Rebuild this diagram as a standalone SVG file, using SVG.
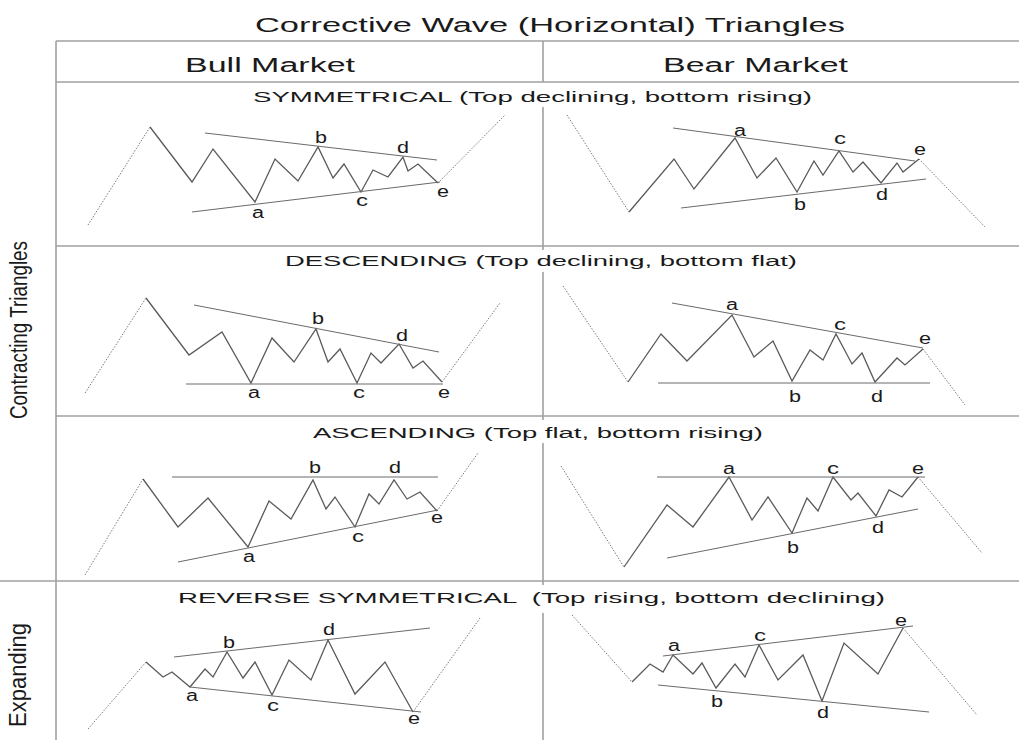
<svg xmlns="http://www.w3.org/2000/svg" width="1019" height="740" viewBox="0 0 1019 740">
<style>
.grid{stroke:#a0a0a0;stroke-width:1.6;fill:none}
.wave{fill:none;stroke:#5a5a5a;stroke-width:1.3;stroke-linejoin:miter}
.trend{stroke:#6a6a6a;stroke-width:1;fill:none}
.dot{stroke:#7a7a7a;stroke-width:1;stroke-dasharray:1.5 1.5;fill:none}
text{font-family:"Liberation Sans",Arial,sans-serif;fill:#1a1a1a}
.title{font-size:20px}
.hdr{font-size:20px}
.sub{font-size:15.5px}
.lbl{font-size:16px;text-anchor:middle}
.side{font-size:23px;text-anchor:middle}
</style>
<rect width="1019" height="740" fill="#ffffff"/>

<g id="frame">
<line class="grid" x1="56" y1="41" x2="1019" y2="41"/>
<line class="grid" x1="56" y1="82" x2="1019" y2="82"/>
<line class="grid" x1="56" y1="41" x2="56" y2="740"/>
<line class="grid" x1="56" y1="246" x2="1019" y2="246"/>
<line class="grid" x1="56" y1="416" x2="1019" y2="416"/>
<line class="grid" x1="0" y1="581" x2="1019" y2="581"/>
<line class="grid" x1="543" y1="41" x2="543" y2="82"/>
<line class="grid" x1="543" y1="107" x2="543" y2="250"/>
<line class="grid" x1="543" y1="272" x2="543" y2="420"/>
<line class="grid" x1="543" y1="443" x2="543" y2="585"/>
<line class="grid" x1="543" y1="613" x2="543" y2="740"/>
</g>

<g id="headings">
<text class="title" x="255" y="32" textLength="590" lengthAdjust="spacingAndGlyphs">Corrective Wave (Horizontal) Triangles</text>
<text class="hdr" x="185" y="72" textLength="170" lengthAdjust="spacingAndGlyphs">Bull Market</text>
<text class="hdr" x="663" y="72" textLength="185" lengthAdjust="spacingAndGlyphs">Bear Market</text>
<text class="side" transform="translate(27,330) rotate(-90)" textLength="178" lengthAdjust="spacingAndGlyphs">Contracting Triangles</text>
<text class="side" transform="translate(26,675) rotate(-90)" textLength="104" lengthAdjust="spacingAndGlyphs">Expanding</text>
</g>

<g id="subtitles">
<text class="sub" x="253" y="102" textLength="559" lengthAdjust="spacingAndGlyphs">SYMMETRICAL (Top declining, bottom rising)</text>
<text class="sub" x="285" y="266" textLength="512" lengthAdjust="spacingAndGlyphs">DESCENDING (Top declining, bottom flat)</text>
<text class="sub" x="313" y="438" textLength="450" lengthAdjust="spacingAndGlyphs">ASCENDING (Top flat, bottom rising)</text>
<text class="sub" x="178" y="603" textLength="707" lengthAdjust="spacingAndGlyphs" xml:space="preserve">REVERSE SYMMETRICAL  (Top rising, bottom declining)</text>
</g>

<g id="sym-bull">
<line class="dot" x1="88" y1="225" x2="150" y2="127"/>
<polyline class="wave" points="150,127 192,182 213,149 255,202 275,159 298,181 318,147 333,178 344,164 361,192 373,170 388,177 403,157 408,171 418,164 438,183"/>
<line class="dot" x1="438" y1="183" x2="505" y2="115"/>
<line class="trend" x1="205" y1="133" x2="437" y2="160"/>
<line class="trend" x1="192" y1="212" x2="440" y2="182"/>
<text class="lbl" x="321" y="143" textLength="12" lengthAdjust="spacingAndGlyphs">b</text>
<text class="lbl" x="403" y="153" textLength="12" lengthAdjust="spacingAndGlyphs">d</text>
<text class="lbl" x="258" y="218" textLength="12" lengthAdjust="spacingAndGlyphs">a</text>
<text class="lbl" x="362" y="206" textLength="12" lengthAdjust="spacingAndGlyphs">c</text>
<text class="lbl" x="443" y="197" textLength="12" lengthAdjust="spacingAndGlyphs">e</text>
</g>

<g id="sym-bear">
<line class="dot" x1="567" y1="115" x2="629" y2="212"/>
<polyline class="wave" points="629,212 674,159 694,189 735,138 757,178 776,158 797,192 814,161 823,175 839,151 853,172 863,162 881,183 897,163 903,172 919,159"/>
<line class="dot" x1="919" y1="159" x2="985" y2="227"/>
<line class="trend" x1="673" y1="128" x2="915" y2="161"/>
<line class="trend" x1="681" y1="208" x2="926" y2="179"/>
<text class="lbl" x="740" y="136" textLength="12" lengthAdjust="spacingAndGlyphs">a</text>
<text class="lbl" x="840" y="144" textLength="12" lengthAdjust="spacingAndGlyphs">c</text>
<text class="lbl" x="920" y="155" textLength="12" lengthAdjust="spacingAndGlyphs">e</text>
<text class="lbl" x="800" y="210" textLength="12" lengthAdjust="spacingAndGlyphs">b</text>
<text class="lbl" x="882" y="200" textLength="12" lengthAdjust="spacingAndGlyphs">d</text>
</g>

<g id="desc-bull">
<line class="dot" x1="85" y1="393" x2="146" y2="298"/>
<polyline class="wave" points="146,298 189,355 222,332 251,383 272,338 294,362 316,329 328,362 340,349 357,383 371,353 381,363 399,344 413,368 423,361 442,382"/>
<line class="dot" x1="442" y1="382" x2="500" y2="303"/>
<line class="trend" x1="194" y1="305" x2="439" y2="352"/>
<line class="trend" x1="186" y1="384" x2="443" y2="384"/>
<text class="lbl" x="318" y="324" textLength="12" lengthAdjust="spacingAndGlyphs">b</text>
<text class="lbl" x="402" y="341" textLength="12" lengthAdjust="spacingAndGlyphs">d</text>
<text class="lbl" x="254" y="398" textLength="12" lengthAdjust="spacingAndGlyphs">a</text>
<text class="lbl" x="359" y="398" textLength="12" lengthAdjust="spacingAndGlyphs">c</text>
<text class="lbl" x="444" y="398" textLength="12" lengthAdjust="spacingAndGlyphs">e</text>
</g>

<g id="desc-bear">
<line class="dot" x1="563" y1="286" x2="628" y2="382"/>
<polyline class="wave" points="628,382 661,334 687,361 732,315 754,357 773,341 792,381 810,350 823,360 836,334 852,364 862,353 875,382 897,358 905,365 923,349"/>
<line class="dot" x1="923" y1="349" x2="965" y2="405"/>
<line class="trend" x1="672" y1="303" x2="923" y2="348"/>
<line class="trend" x1="658" y1="383" x2="930" y2="383"/>
<text class="lbl" x="732" y="310" textLength="12" lengthAdjust="spacingAndGlyphs">a</text>
<text class="lbl" x="840" y="330" textLength="12" lengthAdjust="spacingAndGlyphs">c</text>
<text class="lbl" x="925" y="344" textLength="12" lengthAdjust="spacingAndGlyphs">e</text>
<text class="lbl" x="795" y="402" textLength="12" lengthAdjust="spacingAndGlyphs">b</text>
<text class="lbl" x="877" y="402" textLength="12" lengthAdjust="spacingAndGlyphs">d</text>
</g>

<g id="asc-bull">
<line class="dot" x1="85" y1="575" x2="143" y2="479"/>
<polyline class="wave" points="143,479 178,527 208,498 248,547 269,501 291,519 313,480 326,509 335,497 355,527 369,494 379,504 394,480 407,499 420,492 437,511"/>
<line class="dot" x1="437" y1="511" x2="478" y2="453"/>
<line class="trend" x1="172" y1="477" x2="438" y2="477"/>
<line class="trend" x1="178" y1="562" x2="438" y2="510"/>
<text class="lbl" x="315" y="473" textLength="12" lengthAdjust="spacingAndGlyphs">b</text>
<text class="lbl" x="395" y="473" textLength="12" lengthAdjust="spacingAndGlyphs">d</text>
<text class="lbl" x="249" y="562" textLength="12" lengthAdjust="spacingAndGlyphs">a</text>
<text class="lbl" x="358" y="542" textLength="12" lengthAdjust="spacingAndGlyphs">c</text>
<text class="lbl" x="437" y="523" textLength="12" lengthAdjust="spacingAndGlyphs">e</text>
</g>

<g id="asc-bear">
<line class="dot" x1="561" y1="466" x2="624" y2="567"/>
<polyline class="wave" points="624,567 667,505 693,527 729,477 752,520 768,497 792,533 807,498 818,511 833,477 851,500 858,493 876,516 889,490 902,497 918,477"/>
<line class="dot" x1="918" y1="477" x2="982" y2="553"/>
<line class="trend" x1="657" y1="477" x2="925" y2="477"/>
<line class="trend" x1="667" y1="558" x2="918" y2="509"/>
<text class="lbl" x="729" y="474" textLength="12" lengthAdjust="spacingAndGlyphs">a</text>
<text class="lbl" x="833" y="474" textLength="12" lengthAdjust="spacingAndGlyphs">c</text>
<text class="lbl" x="918" y="474" textLength="12" lengthAdjust="spacingAndGlyphs">e</text>
<text class="lbl" x="793" y="553" textLength="12" lengthAdjust="spacingAndGlyphs">b</text>
<text class="lbl" x="878" y="533" textLength="12" lengthAdjust="spacingAndGlyphs">d</text>
</g>

<g id="rev-bull">
<line class="dot" x1="88" y1="729" x2="146" y2="662"/>
<polyline class="wave" points="146,662 163,677 172,672 190,687 205,669 213,677 227,652 243,678 255,662 272,695 289,660 311,680 328,640 355,694 385,662 413,712"/>
<line class="dot" x1="413" y1="712" x2="480" y2="618"/>
<line class="trend" x1="174" y1="657" x2="430" y2="628"/>
<line class="trend" x1="190" y1="687" x2="421" y2="712"/>
<text class="lbl" x="229" y="648" textLength="12" lengthAdjust="spacingAndGlyphs">b</text>
<text class="lbl" x="329" y="635" textLength="12" lengthAdjust="spacingAndGlyphs">d</text>
<text class="lbl" x="192" y="701" textLength="12" lengthAdjust="spacingAndGlyphs">a</text>
<text class="lbl" x="273" y="711" textLength="12" lengthAdjust="spacingAndGlyphs">c</text>
<text class="lbl" x="414" y="724" textLength="12" lengthAdjust="spacingAndGlyphs">e</text>
</g>

<g id="rev-bear">
<line class="dot" x1="572" y1="615" x2="632" y2="682"/>
<polyline class="wave" points="632,682 650,664 663,672 673,655 693,674 702,663 716,688 735,664 745,677 759,645 778,680 803,655 822,701 844,643 878,674 903,628"/>
<line class="dot" x1="903" y1="628" x2="977" y2="715"/>
<line class="trend" x1="663" y1="656" x2="913" y2="626"/>
<line class="trend" x1="658" y1="685" x2="929" y2="712"/>
<text class="lbl" x="674" y="651" textLength="12" lengthAdjust="spacingAndGlyphs">a</text>
<text class="lbl" x="760" y="641" textLength="12" lengthAdjust="spacingAndGlyphs">c</text>
<text class="lbl" x="901" y="626" textLength="12" lengthAdjust="spacingAndGlyphs">e</text>
<text class="lbl" x="717" y="707" textLength="12" lengthAdjust="spacingAndGlyphs">b</text>
<text class="lbl" x="823" y="718" textLength="12" lengthAdjust="spacingAndGlyphs">d</text>
</g>
</svg>
